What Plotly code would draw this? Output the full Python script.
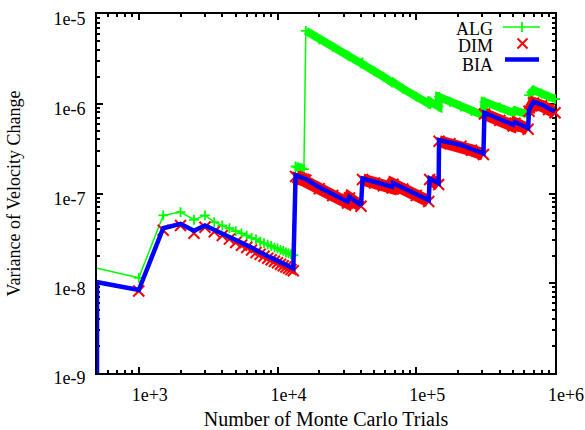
import math
import plotly.graph_objects as go

# ---------------- data ----------------
trials = [500, 1000, 1500, 2000, 2500, 3000, 3500, 4000, 4500, 5000,
          5500, 6000, 6500, 7000, 7500, 8000, 8500, 9000, 9500, 10000,
          10500, 11000, 11500, 12000, 12500, 13000,
          13500, 14000, 14500, 15000, 15500, 16000,
          20000, 25000, 32000, 33000, 40000, 41000, 50000, 58000, 67000, 68000,
          80000, 100000, 123000, 125000, 145000, 146000, 175000, 210000, 250000,
          305000, 310000, 400000, 500000, 515000, 640000, 650000, 700000,
          800000, 900000, 1000000]

alg = [1.47e-8, 1.15e-8, 5.7e-8, 6.2e-8, 5.1e-8, 5.7e-8, 4.8e-8, 4.4e-8, 4.1e-8, 3.8e-8,
       3.6e-8, 3.4e-8, 3.2e-8, 3.1e-8, 2.9e-8, 2.8e-8, 2.7e-8, 2.6e-8, 2.5e-8, 2.45e-8,
       2.35e-8, 2.3e-8, 2.2e-8, 2.15e-8, 2.1e-8, 2.05e-8,
       2.0e-7, 1.96e-7, 1.93e-7, 1.9e-7, 1.87e-7, 6.5e-6,
       5.2e-6, 4.3e-6, 3.45e-6, 3.37e-6, 2.82e-6, 2.88e-6, 2.3e-6, 2.0e-6, 1.72e-6, 1.74e-6,
       1.47e-6, 1.2e-6, 1.0e-6, 1.06e-6, 9.3e-7, 1.19e-6, 1.05e-6, 9.3e-7, 8.3e-7,
       7.4e-7, 1.05e-6, 9.1e-7, 7.95e-7, 8.4e-7, 7.6e-7, 1.25e-6, 1.42e-6,
       1.3e-6, 1.2e-6, 1.13e-6]

dim = [1.0e-8, 8.2e-9, 3.9e-8, 4.4e-8, 3.6e-8, 4.2e-8, 3.75e-8, 3.4e-8, 3.1e-8, 2.85e-8,
       2.65e-8, 2.5e-8, 2.35e-8, 2.2e-8, 2.1e-8, 2.0e-8, 1.9e-8, 1.83e-8, 1.76e-8, 1.69e-8,
       1.63e-8, 1.57e-8, 1.52e-8, 1.47e-8, 1.42e-8, 1.38e-8,
       1.55e-7, 1.51e-7, 1.48e-7, 1.45e-7, 1.43e-7, 1.41e-7,
       1.13e-7, 9.5e-8, 7.85e-8, 8.9e-8, 7.2e-8, 1.43e-7, 1.31e-7, 1.22e-7, 1.15e-7, 1.27e-7,
       1.12e-7, 9.5e-8, 8.15e-8, 1.43e-7, 1.26e-7, 3.82e-7, 3.58e-7, 3.37e-7, 3.03e-7,
       2.72e-7, 7.7e-7, 6.53e-7, 5.65e-7, 6.06e-7, 5.2e-7, 8.25e-7, 1.02e-6,
       9.5e-7, 8.63e-7, 7.95e-7]

bia = [1.03e-8, 8.4e-9, 4.1e-8, 4.6e-8, 3.85e-8, 4.4e-8, 3.95e-8, 3.6e-8, 3.3e-8, 3.0e-8,
       2.8e-8, 2.65e-8, 2.5e-8, 2.35e-8, 2.2e-8, 2.1e-8, 2.0e-8, 1.93e-8, 1.85e-8, 1.78e-8,
       1.72e-8, 1.66e-8, 1.6e-8, 1.55e-8, 1.5e-8, 1.46e-8,
       1.6e-7, 1.56e-7, 1.53e-7, 1.5e-7, 1.47e-7, 1.45e-7,
       1.17e-7, 9.8e-8, 8.1e-8, 9.2e-8, 7.4e-8, 1.47e-7, 1.35e-7, 1.26e-7, 1.19e-7, 1.31e-7,
       1.16e-7, 9.8e-8, 8.4e-8, 1.47e-7, 1.3e-7, 3.94e-7, 3.69e-7, 3.47e-7, 3.13e-7,
       2.8e-7, 7.94e-7, 6.73e-7, 5.83e-7, 6.25e-7, 5.36e-7, 8.5e-7, 1.05e-6,
       9.8e-7, 8.9e-7, 8.2e-7]

# BIA curve starts from a floor value (below the axis) at the first trial count
bia_start = 1e-10

series_names = ["ALG", "DIM", "BIA"]

x_tick_vals = [1e3, 1e4, 1e5, 1e6]
x_tick_text = ["1e+3", "1e+4", "1e+5", "1e+6"]
y_tick_vals = [1e-9, 1e-8, 1e-7, 1e-6, 1e-5]
y_tick_text = ["1e-9", "1e-8", "1e-7", "1e-6", "1e-5"]

x_title = "Number of Monte Carlo Trials"
y_title = "Variance of Velocity Change"

# ---------------- style ----------------
X_MIN, X_MAX = 500, 1e6
Y_MIN, Y_MAX = 1e-9, 1e-5
GREEN, RED, BLUE = "#00ff00", "#ff0000", "#0000ff"
FONT = "Liberation Serif"
FS = 18

W, H = 585, 430
ML, MR, MT, MB = 97, 30, 14, 57
PW, PH = W - ML - MR, H - MT - MB


def pxp(xp):
    return (xp - ML) / PW


def pyp(yp):
    return (H - MB - yp) / PH


DENSE_FROM = 13500  # from here on the markers overlap into a solid band


def band(xs, ys, start, jump=1.5):
    bx, by, prev = [], [], None
    for xv, yv in zip(xs, ys):
        if xv < start:
            continue
        if prev is not None and yv / prev > jump:
            bx.append(None)
            by.append(None)
        bx.append(xv)
        by.append(yv)
        prev = yv
    return bx, by


fig = go.Figure()

abx, aby = band(trials, alg, DENSE_FROM)
fig.add_trace(go.Scatter(x=abx, y=aby, mode="lines", showlegend=False, hoverinfo="skip",
                         line=dict(color=GREEN, width=8)))
fig.add_trace(go.Scatter(x=trials, y=alg, name=series_names[0], mode="lines+markers",
                         cliponaxis=False,
                         line=dict(color=GREEN, width=1.5),
                         marker=dict(symbol="cross-thin", size=7,
                                     line=dict(color=GREEN, width=1.8))))

dbx, dby = band(trials, dim, DENSE_FROM)
fig.add_trace(go.Scatter(x=dbx, y=dby, mode="lines", showlegend=False, hoverinfo="skip",
                         line=dict(color=RED, width=12)))
fig.add_trace(go.Scatter(x=trials, y=dim, name=series_names[1], mode="markers",
                         cliponaxis=False,
                         marker=dict(symbol="x-thin", size=11,
                                     line=dict(color=RED, width=2))))

fig.add_trace(go.Scatter(x=[trials[0]] + trials, y=[bia_start] + bia, name=series_names[2],
                         mode="lines", line=dict(color=BLUE, width=4.5)))

x_minor = [k * 10.0 ** e for e in range(2, 6) for k in range(2, 10) if X_MIN < k * 10.0 ** e < X_MAX]
y_minor = [k * 10.0 ** e for e in range(-9, -5) for k in range(2, 10)]

axis_common = dict(
    type="log", showgrid=False, zeroline=False, showline=True, linecolor="black", linewidth=2,
    mirror="ticks", ticks="inside", ticklen=6, tickwidth=1.5, tickcolor="black",
    tickfont=dict(family=FONT, size=FS, color="black"), layer="below traces",
    automargin=False,
)

fig.update_layout(
    template="none",
    width=W, height=H, margin=dict(l=ML, r=MR, t=MT, b=MB, pad=0, autoexpand=False),
    paper_bgcolor="white", plot_bgcolor="white", showlegend=False,
    font=dict(family=FONT, size=FS, color="black"),
    xaxis=dict(axis_common, range=[math.log10(X_MIN), math.log10(X_MAX)],
               tickmode="array", tickvals=x_tick_vals, ticktext=x_tick_text,
               ticklabelshift=11, ticklabelstandoff=4,
               minor=dict(tickmode="array", tickvals=x_minor, ticks="inside", ticklen=3,
                          tickwidth=1.5, tickcolor="black", showgrid=False),
               title=dict(text=x_title, font=dict(family=FONT, size=20), standoff=8)),
    yaxis=dict(axis_common, range=[math.log10(Y_MIN), math.log10(Y_MAX)],
               tickmode="array", tickvals=y_tick_vals, ticktext=y_tick_text,
               ticklabelshift=5, ticklabelstandoff=6,
               minor=dict(tickmode="array", tickvals=y_minor, ticks="inside", ticklen=3,
                          tickwidth=1.5, tickcolor="black", showgrid=False),
               title=dict(text=y_title, font=dict(family=FONT, size=FS), standoff=28)),
)

# ---------------- key (text left of sample, as in the reference) ----------------
key_rows = [(29, 27), (46.5, 43.5), (65, 59.5)]  # (text centre y, sample y) in px
for name, (ty, _) in zip(series_names, key_rows):
    fig.add_annotation(xref="paper", yref="paper", x=pxp(495), y=pyp(ty), text=name,
                       showarrow=False, xanchor="right", yanchor="middle",
                       font=dict(family=FONT, size=18, color="black"))

sy = key_rows[0][1]
fig.add_shape(type="line", xref="paper", yref="paper", x0=pxp(503), x1=pxp(540), y0=pyp(sy), y1=pyp(sy),
              line=dict(color=GREEN, width=1.5))
fig.add_shape(type="line", xref="paper", yref="paper", x0=pxp(522), x1=pxp(522), y0=pyp(sy - 5), y1=pyp(sy + 5),
              line=dict(color=GREEN, width=1.8))
sy = key_rows[1][1]
fig.add_shape(type="line", xref="paper", yref="paper", x0=pxp(517.5), x1=pxp(527.5), y0=pyp(sy - 5), y1=pyp(sy + 5),
              line=dict(color=RED, width=2))
fig.add_shape(type="line", xref="paper", yref="paper", x0=pxp(517.5), x1=pxp(527.5), y0=pyp(sy + 5), y1=pyp(sy - 5),
              line=dict(color=RED, width=2))
sy = key_rows[2][1]
fig.add_shape(type="line", xref="paper", yref="paper", x0=pxp(505), x1=pxp(539), y0=pyp(sy), y1=pyp(sy),
              line=dict(color=BLUE, width=4.5))

fig.write_html("out.html", config={"displayModeBar": False},
               post_script="document.body.style.margin='0';")
